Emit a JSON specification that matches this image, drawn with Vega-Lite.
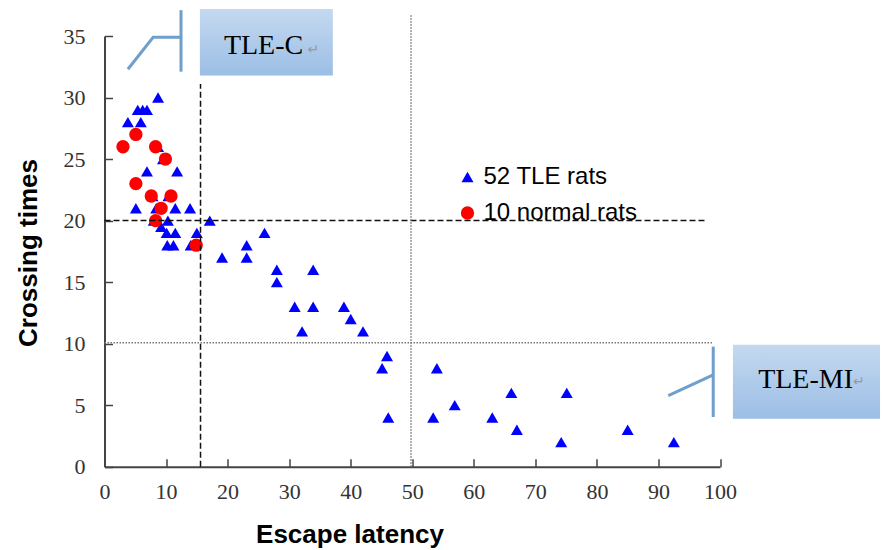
{
  "$schema": "https://vega.github.io/schema/vega-lite/v6.json",
  "width": 615.5,
  "height": 430.7,
  "autosize": {"type": "none"},
  "padding": {"left": 104.5, "top": 36, "right": 162, "bottom": 83.3},
  "background": "white",
  "config": {
    "view": {"stroke": null},
    "axis": {
      "grid": false,
      "labelFlush": false,
      "labelOverlap": false,
      "labelFont": "Liberation Serif",
      "labelFontSize": 22,
      "labelColor": "#333333",
      "domainColor": "#444444",
      "domainWidth": 2,
      "tickColor": "#444444",
      "tickWidth": 1.5,
      "tickSize": -8,
      "titleFont": "Liberation Sans",
      "titleFontSize": 26,
      "titleFontWeight": "bold",
      "titleColor": "#000000",
      "titleBaseline": "alphabetic"
    },
    "legend": {
      "labelFont": "Liberation Sans",
      "labelFontSize": 24,
      "labelColor": "#000000",
      "labelOffset": 4,
      "rowPadding": 12,
      "padding": 0,
      "symbolStrokeWidth": 0
    }
  },
  "datasets": {
    "pts": [
      {"x": 3.8, "y": 28, "group": "52 TLE rats"},
      {"x": 5.4, "y": 29, "group": "52 TLE rats"},
      {"x": 6.2, "y": 29, "group": "52 TLE rats"},
      {"x": 6.9, "y": 29, "group": "52 TLE rats"},
      {"x": 8.7, "y": 30, "group": "52 TLE rats"},
      {"x": 5.9, "y": 28, "group": "52 TLE rats"},
      {"x": 6.9, "y": 24, "group": "52 TLE rats"},
      {"x": 11.8, "y": 24, "group": "52 TLE rats"},
      {"x": 8.7, "y": 26, "group": "52 TLE rats"},
      {"x": 9.5, "y": 25, "group": "52 TLE rats"},
      {"x": 5.1, "y": 21, "group": "52 TLE rats"},
      {"x": 8.4, "y": 21, "group": "52 TLE rats"},
      {"x": 11.5, "y": 21, "group": "52 TLE rats"},
      {"x": 13.9, "y": 21, "group": "52 TLE rats"},
      {"x": 17.1, "y": 20, "group": "52 TLE rats"},
      {"x": 10.3, "y": 20, "group": "52 TLE rats"},
      {"x": 10.1, "y": 19, "group": "52 TLE rats"},
      {"x": 11.5, "y": 19, "group": "52 TLE rats"},
      {"x": 10.2, "y": 18, "group": "52 TLE rats"},
      {"x": 11.2, "y": 18, "group": "52 TLE rats"},
      {"x": 15.0, "y": 19, "group": "52 TLE rats"},
      {"x": 14.0, "y": 18, "group": "52 TLE rats"},
      {"x": 7.8, "y": 22, "group": "52 TLE rats"},
      {"x": 10.4, "y": 22, "group": "52 TLE rats"},
      {"x": 8.0, "y": 20, "group": "52 TLE rats"},
      {"x": 26.0, "y": 19, "group": "52 TLE rats"},
      {"x": 23.1, "y": 18, "group": "52 TLE rats"},
      {"x": 23.1, "y": 17, "group": "52 TLE rats"},
      {"x": 19.1, "y": 17, "group": "52 TLE rats"},
      {"x": 28.0, "y": 16, "group": "52 TLE rats"},
      {"x": 28.0, "y": 15, "group": "52 TLE rats"},
      {"x": 33.9, "y": 16, "group": "52 TLE rats"},
      {"x": 30.9, "y": 13, "group": "52 TLE rats"},
      {"x": 33.9, "y": 13, "group": "52 TLE rats"},
      {"x": 32.1, "y": 11, "group": "52 TLE rats"},
      {"x": 38.9, "y": 13, "group": "52 TLE rats"},
      {"x": 40.0, "y": 12, "group": "52 TLE rats"},
      {"x": 42.0, "y": 11, "group": "52 TLE rats"},
      {"x": 45.9, "y": 9, "group": "52 TLE rats"},
      {"x": 45.1, "y": 8, "group": "52 TLE rats"},
      {"x": 46.1, "y": 4, "group": "52 TLE rats"},
      {"x": 54.0, "y": 8, "group": "52 TLE rats"},
      {"x": 53.4, "y": 4, "group": "52 TLE rats"},
      {"x": 56.9, "y": 5, "group": "52 TLE rats"},
      {"x": 66.1, "y": 6, "group": "52 TLE rats"},
      {"x": 63.0, "y": 4, "group": "52 TLE rats"},
      {"x": 67.0, "y": 3, "group": "52 TLE rats"},
      {"x": 75.1, "y": 6, "group": "52 TLE rats"},
      {"x": 74.2, "y": 2, "group": "52 TLE rats"},
      {"x": 85.0, "y": 3, "group": "52 TLE rats"},
      {"x": 92.5, "y": 2, "group": "52 TLE rats"},
      {"x": 9.2, "y": 19.5, "group": "52 TLE rats"},
      {"x": 3.0, "y": 26, "group": "10 normal rats"},
      {"x": 5.1, "y": 27, "group": "10 normal rats"},
      {"x": 8.3, "y": 26, "group": "10 normal rats"},
      {"x": 9.9, "y": 25, "group": "10 normal rats"},
      {"x": 5.1, "y": 23, "group": "10 normal rats"},
      {"x": 7.6, "y": 22, "group": "10 normal rats"},
      {"x": 10.8, "y": 22, "group": "10 normal rats"},
      {"x": 9.2, "y": 21, "group": "10 normal rats"},
      {"x": 8.3, "y": 20, "group": "10 normal rats"},
      {"x": 14.9, "y": 18, "group": "10 normal rats"}
    ],
    "dashed": [
      {"x": 15.6, "x2": 15.6, "y": 0, "y2": 31.1},
      {"x": 0, "x2": 97.6, "y": 20, "y2": 20}
    ],
    "dotted": [
      {"x": 49.8, "x2": 49.8, "y": 0, "y2": 36.7},
      {"x": 0, "x2": 98.9, "y": 10.08, "y2": 10.08}
    ],
    "boxes": [
      {"x": 15.5, "x2": 37.1, "y": 37.2, "y2": 31.8},
      {"x": 102.1, "x2": 126.0, "y": 9.9, "y2": 3.9}
    ],
    "callouts": [
      {"id": "c", "ord": 0, "x": 3.8, "y": 32.3},
      {"id": "c", "ord": 1, "x": 7.9, "y": 34.9},
      {"id": "c", "ord": 2, "x": 12.43, "y": 34.9},
      {"id": "cv", "ord": 0, "x": 12.43, "y": 37.1},
      {"id": "cv", "ord": 1, "x": 12.43, "y": 32.1},
      {"id": "m", "ord": 0, "x": 91.6, "y": 5.77},
      {"id": "m", "ord": 1, "x": 98.9, "y": 7.46},
      {"id": "mv", "ord": 0, "x": 98.9, "y": 9.76},
      {"id": "mv", "ord": 1, "x": 98.9, "y": 4.04}
    ],
    "labels": [
      {"x": 19.4, "y": 34.15, "label": "TLE-C"},
      {"x": 106.2, "y": 7.05, "label": "TLE-MI"}
    ],
    "returns": [
      {"x": 33.0, "y": 33.9, "label": "↵"},
      {"x": 121.6, "y": 6.9, "label": "↵"}
    ]
  },
  "encoding": {
    "x": {
      "field": "x",
      "type": "quantitative",
      "scale": {"domain": [0, 100], "nice": false, "zero": false},
      "axis": {
        "values": [0, 10, 20, 30, 40, 50, 60, 70, 80, 90, 100],
        "labelPadding": 23,
        "title": "Escape latency",
        "titleX": 245,
        "titleY": 75.3
      }
    },
    "y": {
      "field": "y",
      "type": "quantitative",
      "scale": {"domain": [0, 35], "nice": false, "zero": false},
      "axis": {
        "values": [0, 5, 10, 15, 20, 25, 30, 35],
        "labelPadding": 27.5,
        "title": "Crossing times",
        "titleX": -68.5,
        "titleY": 216.5
      }
    }
  },
  "layer": [
    {
      "data": {"name": "pts"},
      "mark": {"type": "point", "filled": true, "opacity": 1, "strokeWidth": 0},
      "encoding": {
        "shape": {
          "field": "group",
          "type": "nominal",
          "scale": {"domain": ["52 TLE rats", "10 normal rats"], "range": ["triangle-up", "circle"]},
          "legend": {"orient": "none", "legendX": 351, "legendY": 129, "title": null}
        },
        "color": {
          "field": "group",
          "type": "nominal",
          "scale": {"domain": ["52 TLE rats", "10 normal rats"], "range": ["#0000ff", "#ff0000"]},
          "legend": {"orient": "none", "legendX": 351, "legendY": 129, "title": null}
        },
        "size": {
          "field": "group",
          "type": "nominal",
          "scale": {"domain": ["52 TLE rats", "10 normal rats"], "range": [144, 177]},
          "legend": {"orient": "none", "legendX": 351, "legendY": 129, "title": null}
        }
      }
    },
    {
      "data": {"name": "dashed"},
      "mark": {"type": "rule", "color": "#111111", "strokeWidth": 1.5, "strokeDash": [6, 3]},
      "encoding": {"x2": {"field": "x2"}, "y2": {"field": "y2"}}
    },
    {
      "data": {"name": "dotted"},
      "mark": {"type": "rule", "color": "#777777", "strokeWidth": 1.5, "strokeDash": [1.5, 1.5]},
      "encoding": {"x2": {"field": "x2"}, "y2": {"field": "y2"}}
    },
    {
      "data": {"name": "boxes"},
      "mark": {
        "type": "rect",
        "fill": {
          "gradient": "linear",
          "x1": 0, "y1": 0, "x2": 0, "y2": 1,
          "stops": [
            {"offset": 0, "color": "#c4d9f0"},
            {"offset": 1, "color": "#9cbee5"}
          ]
        }
      },
      "encoding": {"x2": {"field": "x2"}, "y2": {"field": "y2"}}
    },
    {
      "data": {"name": "callouts"},
      "mark": {"type": "line", "color": "#6f9fcb", "strokeWidth": 3, "strokeCap": "butt"},
      "encoding": {
        "detail": {"field": "id", "type": "nominal"},
        "order": {"field": "ord", "type": "quantitative"}
      }
    },
    {
      "data": {"name": "labels"},
      "mark": {"type": "text", "font": "Liberation Serif", "fontSize": 28, "color": "#000000", "align": "left", "baseline": "middle"},
      "encoding": {"text": {"field": "label"}}
    },
    {
      "data": {"name": "returns"},
      "mark": {"type": "text", "font": "DejaVu Sans", "fontSize": 14, "color": "#999999", "align": "left", "baseline": "middle"},
      "encoding": {"text": {"field": "label"}}
    }
  ]
}
